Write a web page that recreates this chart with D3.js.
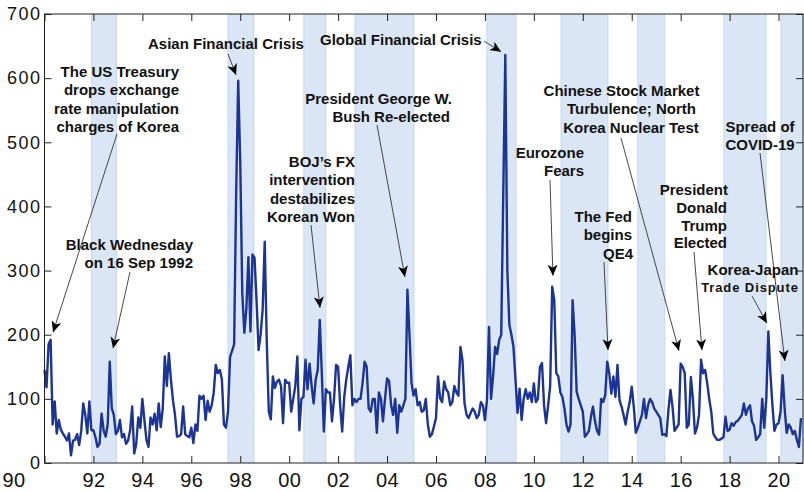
<!DOCTYPE html>
<html><head><meta charset="utf-8">
<script src="https://cdn.jsdelivr.net/npm/d3@7"></script>
<style>
body{margin:0;background:#fff}
svg{display:block}
text{font-family:"Liberation Sans",Arial,Helvetica,sans-serif}
</style>
</head><body>
<svg id="chart" width="804" height="491"></svg>
<script>
// ---- DATA (monthly index, Jan 1990 .. Dec 2020) ----
const startYear = 1990;
const values1990s = [
  145,118,185,192,60,96,46,67,52,46,41,35,
  46,12,35,36,45,28,50,93,75,46,96,51,
  51,40,25,30,77,51,41,60,158,85,75,45,
  50,67,40,45,30,35,51,88,15,30,71,55,
  100,67,36,25,71,60,77,51,93,56,85,166,
  120,171,130,98,75,41,42,45,88,45,42,40,
  55,31,60,50,105,100,105,67,97,80,90,110,
  153,140,145,130,60,55,80,165,175,185,420,596,
  470,265,203,240,321,205,325,320,254,176,200,240,
  345,190,80,68,135,117,127,130,120,62,130,125
];
const values2000s = [
  125,80,100,120,166,51,100,103,161,115,155,120,
  93,130,145,223,140,49,115,110,110,65,100,153,
  150,90,49,103,130,150,168,90,100,95,100,100,
  125,158,150,85,80,100,100,47,110,100,65,100,
  132,128,90,75,100,47,90,80,90,100,270,200,
  125,105,115,90,95,80,82,100,60,41,45,57,
  70,135,101,95,127,115,110,90,95,120,110,105,
  181,160,93,75,70,78,85,80,70,75,95,90,
  67,98,212,100,135,181,170,192,200,420,636,300,
  215,200,181,130,78,116,67,100,115,100,110,95
];
const values2010s = [
  124,95,100,150,156,90,62,90,120,275,255,140,
  135,110,103,85,60,49,60,254,200,111,100,90,
  80,41,45,50,72,88,65,50,44,100,95,106,
  158,140,108,135,103,153,98,88,75,60,80,95,
  119,88,47,55,65,75,100,70,90,100,95,85,
  80,75,70,44,45,42,83,114,88,50,55,60,
  155,150,140,55,60,134,100,46,55,75,161,140,
  145,125,100,80,46,40,36,36,38,40,72,50,
  52,62,58,64,66,70,75,93,75,85,90,65,
  58,36,40,45,100,55,100,205,140,90,50,60
];
const values2020s = [62,80,137,85,47,60,55,45,50,36,25,70];

const xTickYears = [1990,1992,1994,1996,1998,2000,2002,2004,2006,2008,2010,2012,2014,2016,2018,2020];
const xTickLabels = ["90","92","94","96","98","00","02","04","06","08","10","12","14","16","18","20"];
const yTicks = [0,100,200,300,400,500,600,700];

// shaded periods (decimal years)
const bandStarts = [1991.92,1997.50,2000.60,2002.69,2008.08,2011.11,2014.25,2017.77,2020.10];
const bandEnds   = [1992.94,1998.56,2001.50,2005.10,2009.27,2013.03,2015.35,2019.49,2021.00];

// annotations: text lines, and the point (year, value) the arrow points to
const annTexts = [
  ["The US Treasury","drops exchange","rate manipulation","charges of Korea"],
  ["Black Wednesday","on 16 Sep 1992"],
  ["Asian Financial Crisis"],
  ["Global Financial Crisis"],
  ["President George W.","Bush Re-elected"],
  ["BOJ\u2019s FX","intervention","destabilizes","Korean Won"],
  ["Eurozone","Fears"],
  ["The Fed","begins","QE4"],
  ["Chinese Stock Market","Turbulence; North","Korea Nuclear Test"],
  ["President","Donald","Trump","Elected"],
  ["Spread of","COVID-19"],
  ["Korea-Japan","Trade Dispute"]
];
const annTipYear  = [1990.35,1992.80,1997.83,2008.66,2004.73,2001.26,2010.78,2013.03,2015.93,2016.87,2020.26,2019.52];
const annTipValue = [204,179,605,641,290,242,292,176,175,176,159,218];

// ---- LAYOUT ----
const L = 44.5, R = 803, T = 14, B = 463;
const svg = d3.select("#chart");
const x = d3.scaleLinear().domain([1990, 2021]).range([L, R]);
const y = d3.scaleLinear().domain([0, 700]).range([B, T]);

const series = [].concat(values1990s, values2000s, values2010s, values2020s)
  .map((v, i) => ({t: startYear + i / 12, v}));

// bands
const bands = bandStarts.map((s, i) => ({s, e: bandEnds[i]}));
const bg = svg.append("g");
bg.selectAll("rect").data(bands).join("rect")
  .attr("x", d => x(d.s)).attr("y", T)
  .attr("width", d => x(d.e) - x(d.s)).attr("height", B - T)
  .attr("fill", "#dae6f6");
bg.selectAll("line.edge").data(bands.flatMap(d => [d.s, d.e])).join("line")
  .attr("class","edge")
  .attr("x1", d => x(d)).attr("x2", d => x(d))
  .attr("y1", T).attr("y2", B)
  .attr("stroke", "#c4d8f0").attr("stroke-width", 1);

// series line
svg.append("path").datum(series)
  .attr("fill", "none").attr("stroke", "#1c3494").attr("stroke-width", 2.4)
  .attr("stroke-linejoin", "round")
  .attr("d", d3.line().x(d => x(d.t)).y(d => y(d.v)));

// frame & axes
const axisColor = "#222";
svg.append("rect").attr("x", L).attr("y", T).attr("width", R - L).attr("height", B - T)
  .attr("fill", "none").attr("stroke", axisColor).attr("stroke-width", 1);

const gx = svg.append("g").attr("transform", `translate(0,${B})`)
  .call(d3.axisBottom(x).tickValues(xTickYears).tickSize(-7)
    .tickFormat((d, i) => xTickLabels[i]).tickPadding(10));
const gxTop = svg.append("g").attr("transform", `translate(0,${T})`)
  .call(d3.axisTop(x).tickValues(xTickYears).tickSize(-7).tickFormat(""));
const gy = svg.append("g").attr("transform", `translate(${L},0)`)
  .call(d3.axisLeft(y).tickValues(yTicks).tickSize(-7).tickPadding(3));
const gyR = svg.append("g").attr("transform", `translate(${R},0)`)
  .call(d3.axisRight(y).tickValues(yTicks).tickSize(-7).tickFormat(""));
[gx, gxTop, gy, gyR].forEach(g => {
  g.select(".domain").remove();
  g.selectAll(".tick line").attr("stroke", axisColor);
  g.selectAll("text").attr("fill", "#111")
    .style("font-family", '"Liberation Sans", Arial, sans-serif');
});
gy.selectAll("text").style("font-size", "18px").style("letter-spacing", "1.5px");
gx.selectAll("text").style("font-size", "20px").style("letter-spacing", "0.4px")
  .attr("dy", "0.72em");
// first x label sits left of the corner, clear of the y-axis "0"
gx.selectAll(".tick").filter(d => d === 1990).select("text").attr("x", -31);

// annotations
const defs = svg.append("defs");
defs.append("marker").attr("id", "ah")
  .attr("markerUnits", "userSpaceOnUse")
  .attr("viewBox", "0 0 11 10").attr("refX", 11).attr("refY", 5)
  .attr("markerWidth", 11).attr("markerHeight", 10).attr("orient", "auto")
  .append("path").attr("d", "M0,0 L11,5 L0,10 L3,5 Z").attr("fill", "#000");

// text placement (pixel layout) per annotation: anchor, x for each line, first baseline, line gap
const annLayout = [
  {anchor:"end",    xs:[179,179,179,179], y0:77,  gap:18.3, tail:[117,134]},
  {anchor:"end",    xs:[193,193],         y0:250, gap:18.3, tail:[130,272]},
  {anchor:"start",  xs:[148],             y0:49,  gap:18,   tail:[228,54]},
  {anchor:"start",  xs:[320],             y0:45,  gap:18,   tail:[484,41]},
  {anchor:"end",    xs:[452,450],         y0:104, gap:18.3, tail:[377,125]},
  {anchor:"end",    xs:[355,355,355,355], y0:167, gap:18.3, tail:[311,225]},
  {anchor:"end",    xs:[584,584],         y0:158, gap:18.3, tail:[550,180]},
  {anchor:"end",    xs:[632,632,633],     y0:222, gap:18.3, tail:[604,262]},
  {anchor:"middle", xs:[621.5,631.5,631], y0:96,  gap:18.3, tail:[621,138]},
  {anchor:"end",    xs:[728,727,727,727], y0:195, gap:17.8, tail:[694,252]},
  {anchor:"middle", xs:[760,760],         y0:132, gap:18.3, tail:[760,153]},
  {anchor:"middle", xs:[753,750],         y0:275, gap:17,   tail:[752,296]}
];

const ann = svg.append("g");
annTexts.forEach((lines, i) => {
  const lay = annLayout[i];
  ann.append("line")
    .attr("x1", lay.tail[0]).attr("y1", lay.tail[1])
    .attr("x2", x(annTipYear[i])).attr("y2", y(annTipValue[i]))
    .attr("stroke", "#333").attr("stroke-width", 0.9)
    .attr("marker-end", "url(#ah)");
  lines.forEach((ln, j) => {
    const t = ann.append("text")
      .attr("x", lay.xs[j]).attr("y", lay.y0 + j * lay.gap)
      .attr("text-anchor", lay.anchor)
      .attr("font-weight", "bold").attr("font-size", 15).attr("fill", "#111")
      .text(ln);
    if (i === 11 && j === 1) t.attr("font-size", 13).style("letter-spacing", "0.9px");
  });
});
</script>
</body></html>
